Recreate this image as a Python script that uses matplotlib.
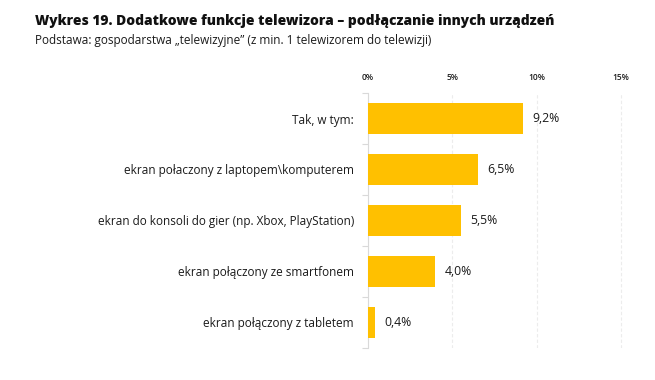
import numpy as np
import matplotlib
matplotlib.use("Agg")
import matplotlib.pyplot as plt

categories = [
    "Tak, w tym:",
    "ekran połaczony z laptopem\\komputerem",
    "ekran do konsoli do gier (np. Xbox, PlayStation)",
    "ekran połączony ze smartfonem",
    "ekran połączony z tabletem",
]
values = [9.2, 6.5, 5.5, 4.0, 0.4]
value_labels = ["9,2%", "6,5%", "5,5%", "4,0%", "0,4%"]
x_ticks = [0, 5, 10, 15]
x_tick_labels = ["0%", "5%", "10%", "15%"]

BAR_COLOR = "#FFC000"
TEXT_COLOR = "#1a1a1a"

plt.rcParams["font.family"] = ["Open Sans", "DejaVu Sans"]

fig = plt.figure(figsize=(6.55, 3.8), dpi=100)
ax = fig.add_axes([0.5618, 0.085, 0.412, 0.67])

y = np.arange(len(categories))
ax.barh(y, values, height=0.6, color=BAR_COLOR, zorder=3)
for yi, v, lab in zip(y, values, value_labels):
    ax.text(v + 0.55, yi, lab, va="center", ha="left", fontsize=8.8, color=TEXT_COLOR)

ax.set_xlim(0, 16)
ax.set_ylim(len(categories) - 0.5, -0.5)
ax.set_xticks(x_ticks)
ax.set_xticklabels(x_tick_labels, fontsize=6, color=TEXT_COLOR, fontweight="semibold")
ax.xaxis.tick_top()
ax.tick_params(axis="x", length=0, pad=8)

ax.set_yticks(y)
ax.set_yticklabels(categories, fontsize=8.5, color=TEXT_COLOR)
ax.tick_params(axis="y", length=0, pad=10)
ax.set_yticks(np.arange(len(categories) + 1) - 0.5, minor=True)
ax.tick_params(axis="y", which="minor", length=4, color="#d9d9d9", width=0.8)

ax.grid(axis="x", color="#ececec", linestyle=(0, (3, 2)), linewidth=0.8, zorder=0)
for s in ["top", "right", "bottom"]:
    ax.spines[s].set_visible(False)
ax.spines["left"].set_color("#d9d9d9")
ax.spines["left"].set_linewidth(0.8)

fig.text(0.053, 0.945, "Wykres 19. Dodatkowe funkcje telewizora – podłączanie innych urządzeń",
         fontsize=9.9, fontweight="heavy", color="#111111", va="center")
fig.text(0.053, 0.893, "Podstawa: gospodarstwa „telewizyjne” (z min. 1 telewizorem do telewizji)",
         fontsize=8.5, color=TEXT_COLOR, va="center")

fig.savefig("out.png", dpi=100)
